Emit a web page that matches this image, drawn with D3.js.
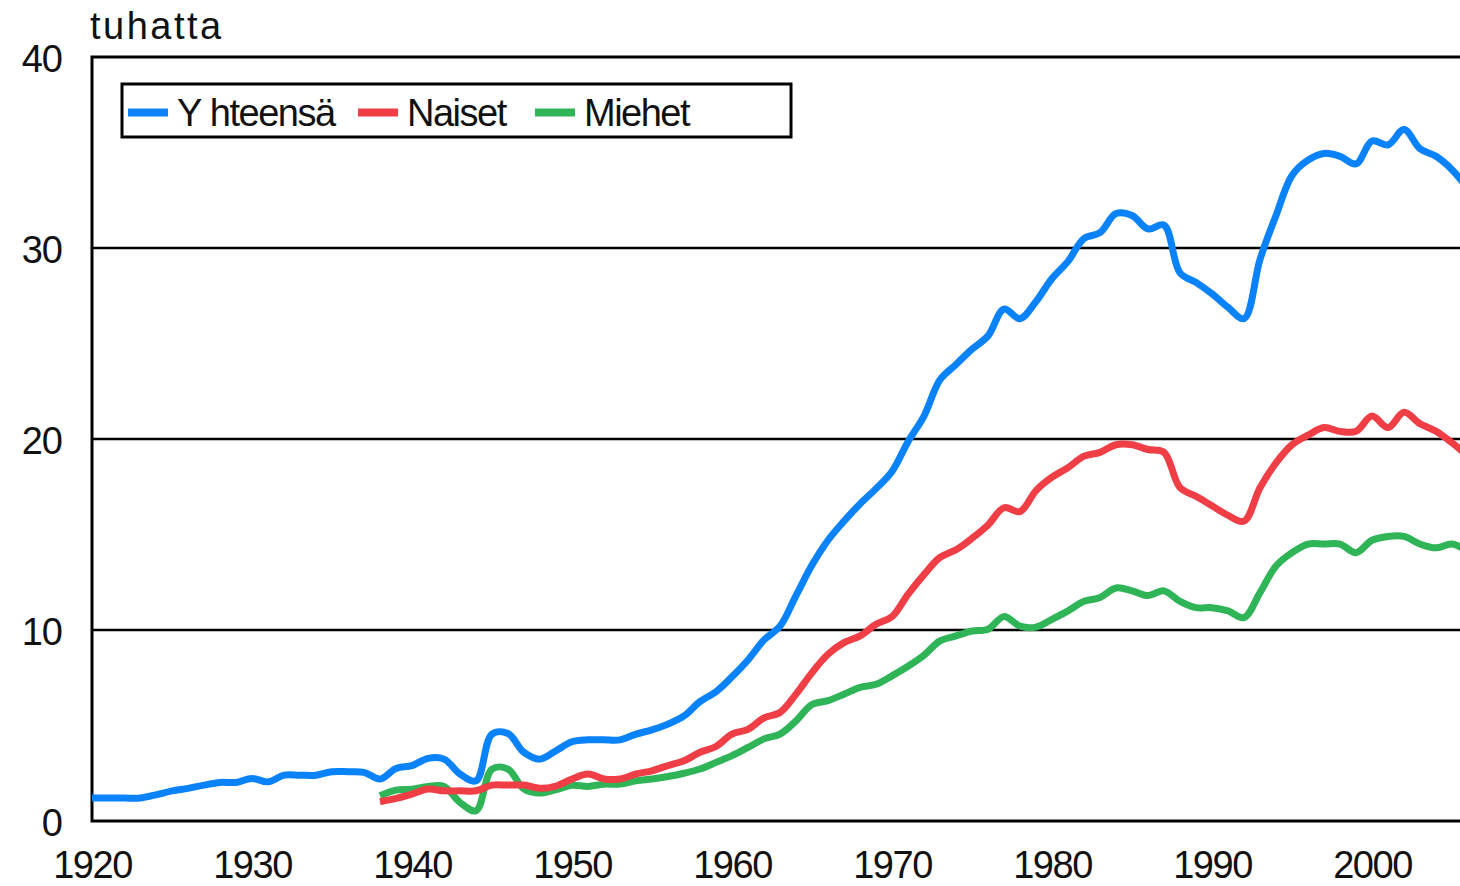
<!DOCTYPE html>
<html>
<head>
<meta charset="utf-8">
<script src="https://cdn.jsdelivr.net/npm/d3@7"></script>
<style>
	body { margin: 0; background: #fff; }
	svg text { font-family: "Liberation Sans", Arial, sans-serif; fill: #111; }
</style>
</head>
<body>
<svg id="chart" width="1460" height="886"></svg>
<script>
// years of the total series
const yearsTotal = d3.range(1920, 2007);
// years of the naiset / miehet series
const yearsSex = d3.range(1938, 2007);

const yhteensa = [1.2, 1.2, 1.2, 1.2, 1.37, 1.58, 1.71, 1.88, 2.02, 2.02,
	2.23, 2.05, 2.4, 2.4, 2.4, 2.58, 2.58, 2.55, 2.2, 2.75,
	2.9, 3.28, 3.24, 2.46, 2.1, 4.55, 4.58, 3.59, 3.24, 3.68,
	4.15, 4.25, 4.25, 4.25, 4.55, 4.77, 5.07, 5.5, 6.25, 6.77,
	7.55, 8.43, 9.48, 10.2, 11.8, 13.4, 14.7, 15.7, 16.6, 17.4,
	18.3, 19.86, 21.2, 23.1, 23.9, 24.7, 25.4, 26.8, 26.3, 27.2,
	28.4, 29.3, 30.5, 30.8, 31.8, 31.7, 31.0, 31.2, 28.7, 28.2,
	27.6, 26.9, 26.3, 29.4, 31.7, 33.8, 34.6, 34.95, 34.8, 34.4,
	35.6, 35.4, 36.2, 35.2, 34.8, 34.1, 33.1];

const naiset = [1.01, 1.18,
	1.41, 1.67, 1.58, 1.58, 1.58, 1.88, 1.88, 1.88, 1.71, 1.83,
	2.2, 2.46, 2.2, 2.2, 2.46, 2.63, 2.9, 3.15, 3.6, 3.9,
	4.55, 4.8, 5.4, 5.68, 6.64, 7.77, 8.73, 9.34, 9.69, 10.3,
	10.7, 11.87, 12.9, 13.8, 14.2, 14.8, 15.5, 16.4, 16.2, 17.3,
	18.0, 18.5, 19.1, 19.3, 19.7, 19.7, 19.45, 19.3, 17.45, 17.0,
	16.5, 16.0, 15.7, 17.45, 18.75, 19.7, 20.2, 20.6, 20.4, 20.4,
	21.2, 20.6, 21.4, 20.8, 20.4, 19.8, 19.1];

const miehet = [1.32, 1.62,
	1.67, 1.81, 1.81, 0.97, 0.54, 2.72, 2.72, 1.67, 1.46, 1.64,
	1.87, 1.81, 1.93, 1.93, 2.1, 2.2, 2.33, 2.5, 2.72, 3.07,
	3.42, 3.85, 4.3, 4.55, 5.24, 6.1, 6.3, 6.64, 7.0, 7.16,
	7.6, 8.1, 8.68, 9.43, 9.69, 9.95, 10.04, 10.7, 10.2, 10.15,
	10.56, 11.0, 11.5, 11.7, 12.2, 12.05, 11.8, 12.05, 11.5, 11.17,
	11.17, 11.0, 10.65, 11.96, 13.35, 14.05, 14.5, 14.5, 14.5, 14.05,
	14.7, 14.9, 14.9, 14.5, 14.3, 14.5, 14.1];

const xTicks = [1920, 1930, 1940, 1950, 1960, 1970, 1980, 1990, 2000];
const yTicks = [0, 10, 20, 30, 40];

const seriesNames = ["Yhteensä", "Naiset", "Miehet"];
const colors = { "Yhteensä": "#0a82fa", "Naiset": "#f03e46", "Miehet": "#30b458" };

//-----------------------------------
const svg = d3.select("#chart");
const pLeft = 92, pTop = 57, pRight = 1460, pBottom = 821;

const x = d3.scaleLinear().domain([1920, 2005.5]).range([pLeft, pRight]);
const y = d3.scaleLinear().domain([0, 40]).range([pBottom, pTop]);

//------- gridlines
svg.append("g")
	.selectAll("line")
	.data(yTicks.filter(d => d > 0 && d < 40))
	.join("line")
	.attr("x1", pLeft).attr("x2", pRight + 5)
	.attr("y1", d => y(d)).attr("y2", d => y(d))
	.attr("stroke", "#000").attr("stroke-width", 2.5);

//------- frame (right side is off the page)
svg.append("rect")
	.attr("x", pLeft).attr("y", pTop)
	.attr("width", pRight - pLeft + 20).attr("height", pBottom - pTop)
	.attr("fill", "none").attr("stroke", "#000").attr("stroke-width", 3);

//------- axes
const xAxis = svg.append("g")
	.attr("transform", "translate(0," + (pBottom + 30) + ")")
	.call(d3.axisBottom(x).tickValues(xTicks).tickSize(0).tickPadding(0).tickFormat(d3.format("d")));
xAxis.select(".domain").remove();
xAxis.selectAll("text")
	.attr("dy", "0.71em")
	.style("font-size", "38px")
	.style("letter-spacing", "-1.5px")
	.attr("fill", "#111");

const yAxis = svg.append("g")
	.attr("transform", "translate(62,0)")
	.call(d3.axisLeft(y).tickValues(yTicks).tickSize(0).tickPadding(0));
yAxis.select(".domain").remove();
yAxis.selectAll("text")
	.attr("dy", "0.38em")
	.style("font-size", "38px")
	.style("letter-spacing", "-1px")
	.attr("fill", "#111");

// unit label
svg.append("text")
	.attr("x", 90).attr("y", 39)
	.style("font-size", "38px")
	.style("letter-spacing", "2.5px")
	.text("tuhatta");

//------- lines
const line = d3.line()
	.x(d => x(d[0]))
	.y(d => y(d[1]))
	.curve(d3.curveCatmullRom.alpha(0.5));

const data = {
	"Yhteensä": d3.zip(yearsTotal, yhteensa),
	"Miehet": d3.zip(yearsSex, miehet),
	"Naiset": d3.zip(yearsSex, naiset)
};

["Yhteensä", "Miehet", "Naiset"].forEach(function (name) {
	svg.append("path")
		.datum(data[name])
		.attr("d", line)
		.attr("fill", "none")
		.attr("stroke", colors[name])
		.attr("stroke-width", 7)
		.attr("stroke-linejoin", "round");
});

//------- legend
const legend = svg.append("g");
legend.append("rect")
	.attr("x", 122).attr("y", 84)
	.attr("width", 669).attr("height", 53)
	.attr("fill", "#fff").attr("stroke", "#000").attr("stroke-width", 3);

const legendX = [128, 358, 535];
seriesNames.forEach(function (name, i) {
	legend.append("line")
		.attr("x1", legendX[i]).attr("x2", legendX[i] + 40)
		.attr("y1", 112.5).attr("y2", 112.5)
		.attr("stroke", colors[name]).attr("stroke-width", 8);
	let t = legend.append("text")
		.attr("x", legendX[i] + 49).attr("y", 126)
		.style("font-size", "38px")
		.style("letter-spacing", "-1.5px");
	if (name === "Yhteensä") {   // the original has a gap after the Y
		t.append("tspan").text("Y");
		t.append("tspan").attr("dx", 9).text("hteensä");
	} else
		t.text(name);
});
</script>
</body>
</html>
